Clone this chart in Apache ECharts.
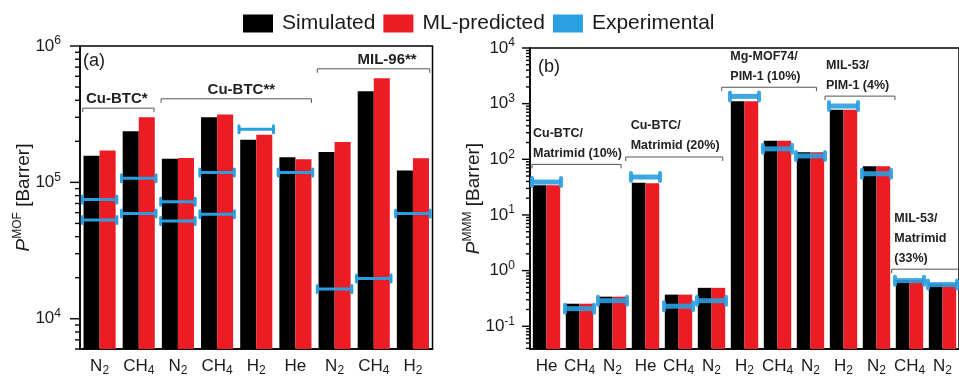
<!DOCTYPE html>
<html><head><meta charset="utf-8">
<script src="https://cdn.jsdelivr.net/npm/echarts@6/dist/echarts.min.js"></script>
<style>html,body{margin:0;padding:0;background:#fff}#c{width:959px;height:377px}</style>
</head><body><div id="c"></div>
<script>
// ---------- data ----------
const catsA = ['N2','CH4','N2','CH4','H2','He','N2','CH4','H2'];
const simA  = [1.57e5, 2.37e5, 1.49e5, 3.00e5, 2.05e5, 1.53e5, 1.67e5, 4.65e5, 1.22e5];
const mlA   = [1.71e5, 3.00e5, 1.51e5, 3.14e5, 2.23e5, 1.48e5, 1.98e5, 5.81e5, 1.50e5];
const expA1 = [7.5e4, 1.07e5, 7.2e4, 1.18e5, 2.45e5, 1.18e5, 1.65e4, 1.97e4, 5.9e4];
const expA2 = [5.3e4, 5.9e4, 5.2e4, 5.85e4, null, null, null, null, null];

const catsB = ['He','CH4','N2','He','CH4','N2','H2','CH4','N2','H2','N2','CH4','N2'];
const simB  = [34, 0.254, 0.34, 38, 0.37, 0.49, 1100, 216, 134, 775, 75, 0.68, 0.58];
const mlB   = [34, 0.254, 0.34, 37, 0.37, 0.49, 1100, 216, 134, 775, 75, 0.68, 0.58];
const expB  = [39, 0.207, 0.288, 48, 0.229, 0.288, 1350, 154, 115, 906, 55, 0.66, 0.56];

const yTicksA = [1e4, 1e5, 1e6];
const yTicksB = [0.1, 1, 10, 100, 1000, 10000];

const annA = [
  {text: 'Cu-BTC*',  x0: -0.43, x1: 1.39, level: 3.5e5, tx: 0.44},
  {text: 'Cu-BTC**', x0: 1.57,  x1: 5.41, level: 4.1e5, tx: 3.62},
  {text: 'MIL-96**', x0: 5.56,  x1: 8.43, level: 6.8e5, tx: 7.34}
];
const annB = [
  {text: 'Cu-BTC/\nMatrimid (10%)',   x0: -0.44, x1: 2.26,  level: 81,   tx: -0.41},
  {text: 'Cu-BTC/\nMatrimid (20%)',   x0: 2.40,  x1: 5.34,  level: 110,  tx: 2.55},
  {text: 'Mg-MOF74/\nPIM-1 (10%)',    x0: 5.31,  x1: 8.18,  level: 1972, tx: 5.57},
  {text: 'MIL-53/\nPIM-1 (4%)',       x0: 8.44,  x1: 10.56, level: 1365, tx: 8.47},
  {text: 'MIL-53/\nMatrimid\n(33%)',  x0: 10.46, x1: 13.6,  level: 1.06, tx: 10.54}
];

// ---------- styles ----------
const FONT = '"Liberation Sans", Arial, sans-serif';
const BLACK = '#000000', RED = '#ec1c24', BLUE = '#2a9fdf', TXT = '#1a1a1a';
const minA = 6000, maxA = 1e6, minB = 0.039, maxB = 1e4;

function subFmt(s) { return s.replace(/(\d+)/g, '{sub|$1}').replace(/^([A-Za-z]+)/, '{n|$1}'); }
function powFmt(ticks) {
  return function (v) {
    for (const t of ticks) if (Math.abs(v - t) / t < 1e-6) return '10{sup|' + Math.round(Math.log10(t)) + '}';
    return '';
  };
}
const xLabel = {
  fontFamily: FONT, fontSize: 17, color: TXT, margin: 6, lineHeight: 22, interval: 0,
  formatter: subFmt,
  rich: {
    n: {fontFamily: FONT, fontSize: 17, lineHeight: 22, color: TXT},
    sub: {fontFamily: FONT, fontSize: 12, lineHeight: 12, verticalAlign: 'bottom', color: TXT}
  }
};
function yLabel(ticks, margin) {
  return {
    fontFamily: FONT, fontSize: 17, color: TXT, lineHeight: 22, margin: margin,
    formatter: powFmt(ticks), showMinLabel: false,
    rich: {sup: {fontFamily: FONT, fontSize: 12, lineHeight: 12, verticalAlign: 'top', color: TXT}}
  };
}
function yName(sup) {
  return {
    name: '{p|P}{sup|' + sup + '} [Barrer]', nameLocation: 'middle', nameRotate: 90,
    nameMoveOverlap: false,
    nameTextStyle: {
      fontFamily: FONT, fontSize: 19, lineHeight: 24, color: TXT,
      rich: {
        p: {fontFamily: FONT, fontSize: 19, lineHeight: 24, fontStyle: 'italic', color: TXT},
        sup: {fontFamily: FONT, fontSize: 12, lineHeight: 12, verticalAlign: 'top', color: TXT}
      }
    }
  };
}
// tick values k * 10^d within the axis range
function logTicks(min, max) {
  const out = [];
  for (let d = Math.floor(Math.log10(min)); d <= Math.ceil(Math.log10(max)); d++) {
    for (let k = 1; k <= 9; k++) {
      const v = k * Math.pow(10, d);
      if (v >= min * 0.999 && v <= max * 1.001) out.push([v, k === 1]);
    }
  }
  return out;
}
function expSeries(ax, arr, lw, capH, capW, opacity) {
  const data = [];
  arr.forEach((v, i) => { if (v != null) data.push([i, v]); });
  return {
    type: 'custom', name: 'Experimental', xAxisIndex: ax, yAxisIndex: ax, z: 10,
    itemStyle: {color: BLUE},
    data: data,
    renderItem: function (params, api) {
      const c = api.coord([api.value(0), api.value(1)]);
      const w = api.size([1, 0])[0] * 0.88;
      const x0 = c[0] - w / 2, x1 = c[0] + w / 2;
      return {type: 'group', children: [
        {type: 'line', shape: {x1: x0, y1: c[1], x2: x1, y2: c[1]},
         style: {stroke: BLUE, lineWidth: lw, opacity: opacity}},
        {type: 'rect', shape: {x: x0 - capW / 2, y: c[1] - capH / 2, width: capW, height: capH, r: capW / 2},
         style: {fill: BLUE, opacity: opacity}},
        {type: 'rect', shape: {x: x1 - capW / 2, y: c[1] - capH / 2, width: capW, height: capH, r: capW / 2},
         style: {fill: BLUE, opacity: opacity}}
      ]};
    }
  };
}
function annSeries(ax, anns, font, multi) {
  return {
    type: 'custom', xAxisIndex: ax, yAxisIndex: ax, silent: true, clip: false, z: 8,
    data: anns.map(a => [0, a.level]),
    renderItem: function (params, api) {
      const a = anns[params.dataIndex];
      const base = api.coord([0, a.level]);
      const cw = api.size([1, 0])[0];
      const xa = base[0] + a.x0 * cw, xb = base[0] + a.x1 * cw, y = base[1];
      const tx = base[0] + a.tx * cw;
      return {type: 'group', children: [
        {type: 'polyline', shape: {points: [[xa, y + 4], [xa, y], [xb, y], [xb, y + 4]]},
         style: {stroke: '#555', lineWidth: 1, fill: null}},
        {type: 'text', style: multi ? {
            text: a.text, x: tx, y: y - 1, align: 'left', verticalAlign: 'bottom',
            font: font, lineHeight: 20, fill: '#222'
          } : {
            text: a.text, x: tx, y: y - 9, align: 'center', verticalAlign: 'middle',
            font: font, fill: '#222'
          }}
      ]};
    }
  };
}

const chart = echarts.init(document.getElementById('c'), null, {renderer: 'canvas'});
const axLine = {show: true, lineStyle: {color: '#000', width: 1.5}};
chart.setOption({
  animation: false,
  backgroundColor: '#fff',
  legend: {
    left: 243, top: 13, padding: 0, itemWidth: 30, itemHeight: 18, itemGap: 8,
    textStyle: {fontFamily: FONT, fontSize: 21, color: TXT, padding: [0, 0, 0, 4]},
    data: [
      {name: 'Simulated', icon: 'rect'},
      {name: 'ML-predicted', icon: 'rect'},
      {name: 'Experimental', icon: 'rect', itemStyle: {color: BLUE}}
    ]
  },
  title: [
    {text: '(a)', left: 83, top: 52, padding: 0, textStyle: {fontFamily: FONT, fontSize: 18, fontWeight: 'normal', color: TXT}},
    {text: '(b)', left: 538, top: 58, padding: 0, textStyle: {fontFamily: FONT, fontSize: 18, fontWeight: 'normal', color: TXT}}
  ],
  grid: [
    {left: 80, top: 46, width: 352.5, height: 304, show: true, borderColor: '#000', borderWidth: 1.5, containLabel: false},
    {left: 530, top: 48, width: 438.75, height: 304.5, show: true, borderColor: '#000', borderWidth: 1.5, containLabel: false}
  ],
  xAxis: [
    {type: 'category', gridIndex: 0, data: catsA, axisLine: axLine,
     axisTick: {alignWithLabel: true, interval: 0, length: 6, lineStyle: {color: '#000', width: 1.3}},
     axisLabel: xLabel},
    {type: 'category', gridIndex: 1, data: catsB, axisLine: axLine,
     axisTick: {alignWithLabel: true, interval: 0, length: 6, lineStyle: {color: '#000', width: 1.3}},
     axisLabel: xLabel}
  ],
  yAxis: [
    Object.assign({type: 'log', gridIndex: 0, min: minA, max: maxA, startValue: minA, logBase: 10,
     axisLine: axLine, axisTick: {show: false}, splitLine: {show: false},
     axisLabel: yLabel(yTicksA, 19), nameGap: 44}, yName('MOF')),
    Object.assign({type: 'log', gridIndex: 1, min: minB, max: maxB, startValue: minB, logBase: 10,
     axisLine: axLine, axisTick: {show: false}, splitLine: {show: false},
     axisLabel: yLabel(yTicksB, 15), nameGap: 44}, yName('MMM'))
  ],
  series: [
    {type: 'bar', name: 'Simulated', xAxisIndex: 0, yAxisIndex: 0, data: simA, barWidth: '41%', barGap: '0%',
     itemStyle: {color: BLACK}},
    {type: 'bar', name: 'ML-predicted', xAxisIndex: 0, yAxisIndex: 0, data: mlA, barWidth: '41%', barGap: '0%',
     itemStyle: {color: RED}},
    {type: 'bar', name: 'Simulated', xAxisIndex: 1, yAxisIndex: 1, data: simB, barWidth: '41.5%', barGap: '0%',
     itemStyle: {color: BLACK}},
    {type: 'bar', name: 'ML-predicted', xAxisIndex: 1, yAxisIndex: 1, data: mlB, barWidth: '41.5%', barGap: '0%',
     itemStyle: {color: RED}},
    expSeries(0, expA1, 3, 10, 3, 1),
    expSeries(0, expA2, 3, 10, 3, 1),
    expSeries(1, expB, 5, 12, 4, 0.9),
    annSeries(0, annA, 'bold 15px ' + FONT, false),
    annSeries(1, annB, 'bold 12.5px ' + FONT, true)
  ]
});

// y-axis major/minor ticks (outside), positioned through the library's own axis scales
const tickEls = [];
[[0, minA, maxA, 10, 5], [1, minB, maxB, 8, 4]].forEach(function (cfg) {
  const ax = cfg[0];
  const x = chart.convertToPixel({xAxisIndex: ax}, 0) - chart.getModel().getComponent('xAxis', ax).axis.getBandWidth() / 2;
  logTicks(cfg[1], cfg[2]).forEach(function (t) {
    const y = chart.convertToPixel({yAxisIndex: ax}, t[0]);
    const len = t[1] ? cfg[3] : cfg[4];
    tickEls.push({type: 'line', z: 100, silent: true,
      shape: {x1: x - len, y1: y, x2: x, y2: y},
      style: {stroke: '#000', lineWidth: 1.4}});
  });
});
chart.setOption({graphic: tickEls});
</script></body></html>
